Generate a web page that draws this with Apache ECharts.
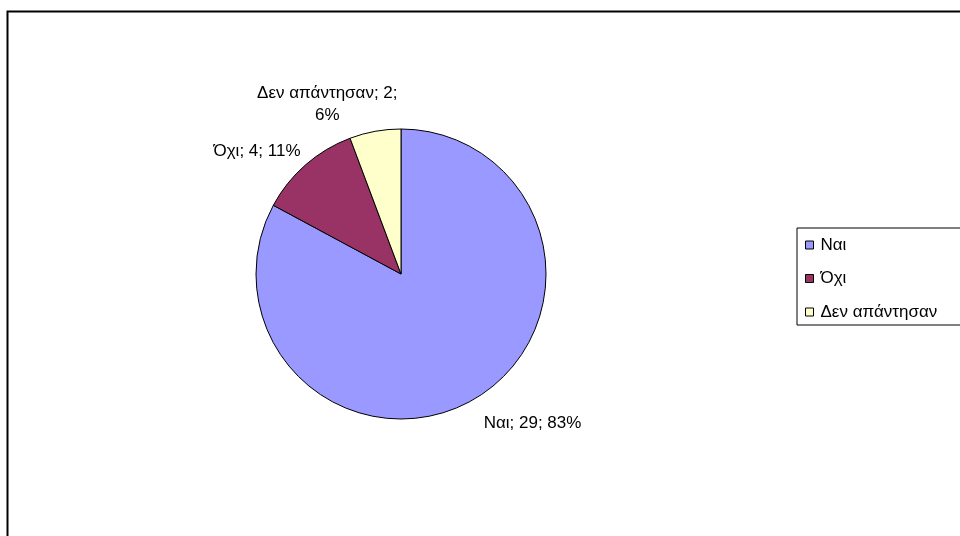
<!DOCTYPE html>
<html><head><meta charset="utf-8">
<script src="https://cdn.jsdelivr.net/npm/echarts@6/dist/echarts.min.js"></script>
<style>html,body{margin:0;padding:0;background:#fff}#c{width:960px;height:536px}</style>
</head><body><div id="c"></div>
<script>
const categories = ['Ναι', 'Όχι', 'Δεν απάντησαν'];
const values = [29, 4, 2];
const percents = [83, 11, 6];
const colors = ['#9999FF', '#993366', '#FFFFCC'];

const chart = echarts.init(document.getElementById('c'));
const font = 'Liberation Sans, Arial, sans-serif';
const labelShift = [[47, 16], [-37, -6], [-41, -17]];
chart.setOption({
  animation: false,
  backgroundColor: '#fff',
  graphic: [{
    type: 'rect', shape: {x: 7.5, y: 11.5, width: 1000, height: 600},
    style: {fill: 'none', stroke: '#000', lineWidth: 2}, silent: true, z: 0
  }],
  legend: {
    orient: 'vertical', left: 797, top: 228,
    padding: [8, 100, 4, 8], itemGap: 15.5,
    borderColor: '#000', borderWidth: 1,
    icon: 'rect', itemWidth: 8, itemHeight: 8,
    itemStyle: {borderColor: '#000', borderWidth: 1},
    textStyle: {fontFamily: font, fontSize: 17, color: '#000', padding: [0, 0, 0, 2], lineHeight: 18},
    data: categories
  },
  series: [{
    type: 'pie',
    center: [401, 274], radius: 145,
    startAngle: 90, clockwise: true,
    itemStyle: {borderColor: '#000', borderWidth: 1},
    label: {
      show: true, position: 'outside', fontFamily: font, fontSize: 17, color: '#000',
      lineHeight: 22, align: 'center',
      formatter: p => p.dataIndex === 2 ? p.name + '; ' + p.value + ';\n' + percents[p.dataIndex] + '%' : p.name + '; ' + p.value + '; ' + percents[p.dataIndex] + '%'
    },
    labelLine: {show: false, length: 10, length2: 0},
    labelLayout: p => ({dx: labelShift[p.dataIndex][0], dy: labelShift[p.dataIndex][1], align: 'center'}),
    data: categories.map((n, i) => ({name: n, value: values[i], itemStyle: {color: colors[i]}}))
  }]
});
</script></body></html>
